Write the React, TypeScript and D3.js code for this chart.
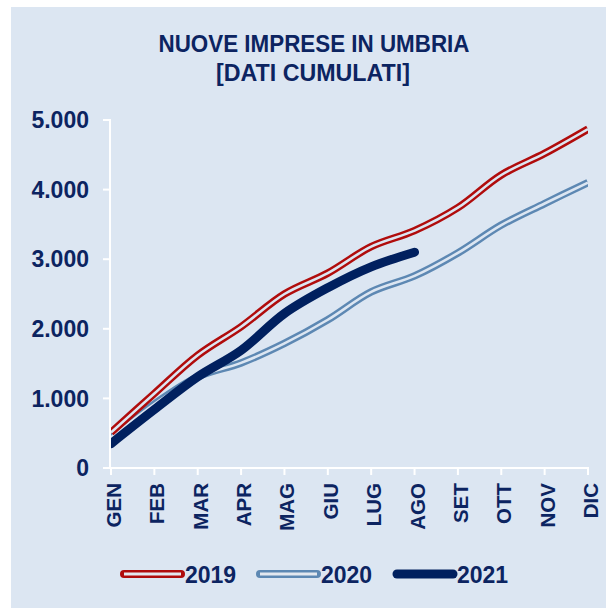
import React from "react";
import * as d3 from "d3";

const months = ["GEN", "FEB", "MAR", "APR", "MAG", "GIU", "LUG", "AGO", "SET", "OTT", "NOV", "DIC"];
const values2019 = [510, 1070, 1620, 2030, 2500, 2800, 3180, 3410, 3740, 4210, 4520, 4870];
const values2020 = [440, 920, 1310, 1510, 1790, 2130, 2530, 2760, 3090, 3490, 3800, 4100];
const values2021 = [350, 840, 1310, 1690, 2220, 2590, 2890, 3100];
const yTicks = [0, 1000, 2000, 3000, 4000, 5000];
const yTickLabels = ["0", "1.000", "2.000", "3.000", "4.000", "5.000"];
const seriesNames = ["2019", "2020", "2021"];

const BG = "#dce6f2";
const TXT = "#0c2461";
const RED = "#b00c0c";
const STEEL = "#5d88b3";
const NAVY = "#00205f";
const FONT = "'Liberation Sans', Arial, sans-serif";

export default function App() {
  const W = 606, H = 608;
  const x = d3.scalePoint<string>().domain(months).range([111, 588]);
  const y = d3.scaleLinear().domain([0, 5000]).range([468, 120]);
  const line = d3
    .line<number>()
    .x((_, i) => x(months[i]) as number)
    .y((d) => y(d))
    .curve(d3.curveCatmullRom.alpha(0.5));

  const legendItems = [
    { name: seriesNames[0], x1: 124, x2: 181, tx: 185, type: "double", color: RED },
    { name: seriesNames[1], x1: 260, x2: 317, tx: 321, type: "double", color: STEEL },
    { name: seriesNames[2], x1: 397, x2: 453, tx: 457, type: "solid", color: NAVY },
  ];

  return (
    <svg width={W} height={H} style={{ position: "absolute", left: 0, top: 0 }} fontFamily={FONT}>
      <defs>
        <clipPath id="plotClip">
          <rect x={111} y={90} width={477} height={390} />
        </clipPath>
      </defs>
      <rect x={0} y={0} width={W} height={H} fill="#ffffff" />
      <rect x={11} y={7} width={W - 11} height={H - 7} fill={BG} />
      <text x={314} y={52} textAnchor="middle" fontSize={24} fontWeight="bold" fill={TXT}
        textLength={311} lengthAdjust="spacingAndGlyphs">
        NUOVE IMPRESE IN UMBRIA
      </text>
      <text x={313} y={81} textAnchor="middle" fontSize={24} fontWeight="bold" fill={TXT}
        textLength={194} lengthAdjust="spacingAndGlyphs">
        [DATI CUMULATI]
      </text>

      {/* axes */}
      <line x1={110} y1={119} x2={110} y2={469} stroke="#ffffff" strokeWidth={2} />
      <line x1={110} y1={468} x2={589} y2={468} stroke="#ffffff" strokeWidth={2} />
      {yTicks.map((t, i) => (
        <g key={t}>
          <line x1={103} x2={110} y1={y(t)} y2={y(t)} stroke="#ffffff" strokeWidth={2} />
          <text x={89} y={y(t)} dy="0.36em" textAnchor="end" fontSize={23} fontWeight="bold" fill={TXT}>
            {yTickLabels[i]}
          </text>
        </g>
      ))}
      {months.map((m) => (
        <g key={m}>
          <line x1={x(m)} x2={x(m)} y1={468} y2={475} stroke="#ffffff" strokeWidth={2} />
          <text
            transform={`translate(${(x(m) as number) + 10},483) rotate(-90)`}
            textAnchor="end"
            fontSize={20.5}
            fontWeight="bold"
            fill={TXT}
          >
            {m}
          </text>
        </g>
      ))}

      {/* series */}
      <g clipPath="url(#plotClip)">
        <path d={line(values2020) || ""} fill="none" stroke={STEEL} strokeWidth={7.5} />
        <path d={line(values2020) || ""} fill="none" stroke={BG} strokeWidth={2.6} />
        <path d={line(values2019) || ""} fill="none" stroke={RED} strokeWidth={7.5} />
        <path d={line(values2019) || ""} fill="none" stroke={BG} strokeWidth={2.6} />
        <path d={line(values2021) || ""} fill="none" stroke={NAVY} strokeWidth={9} strokeLinecap="round" strokeLinejoin="round" />
      </g>

      {/* legend */}
      {legendItems.map((it) => (
        <g key={it.name}>
          {it.type === "double" ? (
            <>
              <line x1={it.x1} x2={it.x2} y1={574} y2={574} stroke={it.color} strokeWidth={8} strokeLinecap="round" />
              <line x1={it.x1} x2={it.x2} y1={574} y2={574} stroke="#e3e8ef" strokeWidth={3} />
            </>
          ) : (
            <line x1={it.x1} x2={it.x2} y1={574} y2={574} stroke={it.color} strokeWidth={9} strokeLinecap="round" />
          )}
          <text x={it.tx} y={583} fontSize={23} fontWeight="bold" fill={TXT}>
            {it.name}
          </text>
        </g>
      ))}
    </svg>
  );
}
